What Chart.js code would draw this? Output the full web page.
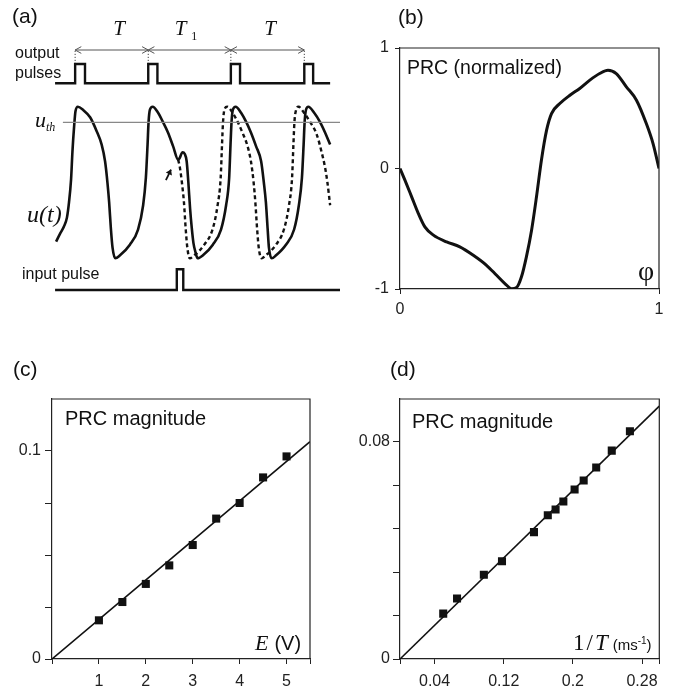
<!DOCTYPE html>
<html>
<head>
<meta charset="utf-8">
<script src="https://cdn.jsdelivr.net/npm/chart.js@4.4.0/dist/chart.umd.min.js"></script>
<style>
  body { margin: 0; background: #fff; }
  #wrap { position: relative; width: 674px; height: 691px; }
  canvas { position: absolute; }
</style>
</head>
<body>
<div id="wrap">
  <canvas id="chartA" width="340" height="330" style="left:0;top:0"></canvas>
  <canvas id="chartB" width="334" height="330" style="left:340px;top:0"></canvas>
  <canvas id="chartC" width="340" height="361" style="left:0;top:330px"></canvas>
  <canvas id="chartD" width="334" height="361" style="left:340px;top:330px"></canvas>
</div>
<script>
// (a) membrane potential u(t): t in ms, u in % of spike height
const solidT = [16.5, 17.6, 18.8, 19.7, 20.3, 20.9, 21.3, 21.8, 22.2, 22.9, 24.4, 26.5, 28.4, 29.9, 30.9, 31.6, 32.1, 32.6, 33.1, 33.9,
  35.3, 38.2, 40.6, 42.1, 42.9, 43.4, 43.7, 44.1, 44.9, 46.5, 47.9, 49.4, 50.9, 52.4, 52.8, 53.7, 54.3, 54.9, 55.4, 55.9,
  56.4, 56.9, 57.5, 58.1, 59.7, 62.6, 65.0, 66.5, 67.4, 67.8, 68.1, 68.5, 69.3, 70.9, 72.4, 73.8, 75.3, 76.8, 77.6, 78.2,
  78.7, 79.1, 79.9, 81.2, 84.1, 86.5, 87.9, 88.8, 89.3, 89.6, 90.0, 90.7, 92.4, 94.1, 95.6, 97.1];
const solidU = [11, 16, 21, 27, 37, 52, 70, 87, 97, 100, 98, 93, 84, 75, 64, 50, 37, 20, 7, 0,
  2, 9, 19, 35, 53, 75, 90, 98, 100, 96, 90, 83, 74, 65, 66, 70, 69, 64, 50, 33,
  20, 10, 4, 0, 2, 9, 19, 35, 53, 75, 90, 98, 100, 96, 90, 83, 74, 64, 50, 37,
  20, 7, 0, 2, 9, 19, 35, 53, 75, 90, 98, 100, 96, 90, 83, 75];
// unperturbed continuation (dashed)
const freeT = [52.4, 52.9, 53.5, 54.1, 54.6, 55.1, 55.8, 57.2, 60.1, 62.5, 64.0, 64.9, 65.3, 65.6, 66.0, 66.8, 68.4, 69.9, 71.3, 72.8,
  73.8, 74.6, 75.1, 75.6, 76.1, 76.9, 78.2, 81.2, 83.5, 85.0, 85.9, 86.3, 86.6, 87.1, 87.8, 89.4, 91.2, 93.1, 94.6, 95.6,
  96.3, 97.1];
const freeU = [65, 60, 50, 37, 20, 7, 0, 2, 9, 19, 35, 53, 75, 90, 98, 100, 96, 90, 83, 74,
  64, 50, 37, 20, 7, 0, 2, 9, 19, 35, 53, 75, 90, 98, 100, 96, 90, 82, 70, 60,
  50, 35];
const outPulseT = [16.2, 22.1, 25.0, 43.6, 46.3, 67.9, 70.6, 89.5, 92.1, 97.1];
const outPulseV = [0, 1, 0, 1, 0, 1, 0, 1, 0, 0];
const inPulseT = [16.2, 52.0, 53.9, 100];
const inPulseV = [0, 1, 0, 0];
const thresholdT = [18.5, 100];
const uThreshold = 89.7;
const spikeMarkT = [22.1, 43.6, 67.9, 89.5];
const periodRow = 1.725;
const kickT = [48.8, 50.3];
const kickU = [51.5, 58.5];

// (b) phase response curve
const phase = [0, 0.019, 0.045, 0.071, 0.096, 0.129, 0.180, 0.231, 0.283, 0.334, 0.373, 0.405, 0.431, 0.450, 0.469, 0.488, 0.508,
  0.527, 0.546, 0.566, 0.585, 0.617, 0.656, 0.694, 0.733, 0.771, 0.803, 0.835, 0.874, 0.913, 0.951, 0.977, 1.0];
const prc = [0, -0.097, -0.235, -0.374, -0.484, -0.553, -0.609, -0.650, -0.720, -0.803, -0.886, -0.955, -0.997, -0.988, -0.899, -0.733, -0.512,
  -0.235, 0.069, 0.318, 0.456, 0.539, 0.608, 0.664, 0.733, 0.788, 0.816, 0.788, 0.678, 0.567, 0.373, 0.207, 0];
const bTicks = [-1, 0, 1];
const bLabels = ['-1', '0', '1'];

// (c) PRC magnitude vs E
const voltE = [1, 1.5, 2, 2.5, 3, 3.5, 4, 4.5, 5];
const magE = [0.0186, 0.0274, 0.0361, 0.0450, 0.0548, 0.0675, 0.0750, 0.0873, 0.0974];
const fitE = [0, 5.5];
const fitMagE = [0, 0.1045];
const cTicksX = [0, 1, 2, 3, 4, 5, 5.5];
const cLabelsX = ['', '1', '2', '3', '4', '5', ''];
const cTicksY = [0, 0.025, 0.05, 0.075, 0.1];
const cLabelsY = ['0', '', '', '', '0.1'];

// (d) PRC magnitude vs 1/T
const invT = [0.050, 0.066, 0.097, 0.118, 0.155, 0.171, 0.180, 0.189, 0.202, 0.2125, 0.227, 0.245, 0.266];
const magT = [0.0167, 0.0223, 0.0310, 0.0360, 0.0467, 0.0529, 0.0550, 0.0580, 0.0624, 0.0657, 0.0705, 0.0767, 0.0838];
const fitT = [0, 0.3];
const fitMagT = [0, 0.0931];
const dTicksX = [0, 0.04, 0.12, 0.2, 0.28, 0.3];
const dLabelsX = ['', '0.04', '0.12', '0.2', '0.28', ''];
const dTicksY = [0, 0.016, 0.032, 0.048, 0.064, 0.08];
const dLabelsY = ['0', '', '', '', '', '0.08'];

Chart.defaults.font.family = "'Liberation Sans', Arial, sans-serif";
Chart.defaults.font.size = 16;
Chart.defaults.color = '#222';
Chart.defaults.animation = false;
Chart.defaults.responsive = false;
Chart.defaults.plugins.legend.display = false;
Chart.defaults.plugins.tooltip.enabled = false;

const ink = '#111';
const pts = (xs, ys) => xs.map((x, i) => ({ x: x, y: ys[i] }));

function axis(min, max, ticks, labels, size, tickLen, pad) {
  return {
    type: 'linear', min: min, max: max,
    afterBuildTicks: s => { s.ticks = ticks.map(v => ({ value: v })); },
    afterFit: s => { if (s.isHorizontal()) s.height = size; else s.width = size; },
    grid: { drawOnChartArea: false, drawTicks: true, tickLength: tickLen, color: '#222', lineWidth: 1 },
    border: { color: '#222', width: 1.2 },
    ticks: { padding: pad, color: '#222', autoSkip: false, maxRotation: 0, font: { size: 16 },
      callback: (v, i) => labels[i] }
  };
}

function hidden(min, max, ax) {
  return { type: 'linear', axis: ax, min: min, max: max, display: false };
}

// box around the plot area
const frame = {
  id: 'frame',
  afterDatasetsDraw(chart) {
    const a = chart.chartArea, ctx = chart.ctx;
    ctx.save();
    ctx.strokeStyle = '#222';
    ctx.lineWidth = 1.2;
    ctx.beginPath();
    ctx.moveTo(a.left, a.top);
    ctx.lineTo(a.right, a.top);
    ctx.lineTo(a.right, a.bottom);
    ctx.stroke();
    ctx.restore();
  }
};

// text labels made of runs (for subscripts, italics)
function notes(items) {
  return {
    id: 'notes',
    afterDraw(chart) {
      const ctx = chart.ctx;
      items.forEach(it => {
        ctx.save();
        ctx.fillStyle = ink;
        ctx.textBaseline = it.base || 'alphabetic';
        let x = it.x;
        if (it.align === 'center') {
          let w = 0;
          it.runs.forEach(r => { ctx.font = r[1]; w += ctx.measureText(r[0]).width + (r[3] || 0); });
          x -= w / 2;
        }
        it.runs.forEach(r => {
          ctx.font = r[1];
          ctx.fillText(r[0], x, it.y + (r[2] || 0));
          x += ctx.measureText(r[0]).width + (r[3] || 0);
        });
        ctx.restore();
      });
    }
  };
}

// arrow heads on datasets flagged with arrowHeads
const arrowHeads = {
  id: 'arrowHeads',
  afterDatasetsDraw(chart) {
    const ctx = chart.ctx;
    chart.data.datasets.forEach((ds, i) => {
      if (!ds.arrowHeads) return;
      const d = chart.getDatasetMeta(i).data;
      const p0 = d[0], p1 = d[d.length - 1];
      const ends = ds.arrowHeads === 'both' ? [[p0, p1], [p1, p0]] : [[p1, p0]];
      ctx.save();
      ctx.strokeStyle = ds.borderColor;
      ctx.fillStyle = ds.borderColor;
      ctx.lineWidth = ds.borderWidth;
      ends.forEach(([tip, from]) => {
        const ang = Math.atan2(tip.y - from.y, tip.x - from.x);
        const len = ds.headLen || 8, spread = ds.headSpread || 0.45;
        ctx.beginPath();
        ctx.moveTo(tip.x - len * Math.cos(ang - spread), tip.y - len * Math.sin(ang - spread));
        ctx.lineTo(tip.x, tip.y);
        ctx.lineTo(tip.x - len * Math.cos(ang + spread), tip.y - len * Math.sin(ang + spread));
        if (ds.headFill) { ctx.closePath(); ctx.fill(); } else ctx.stroke();
      });
      ctx.restore();
    });
  }
};

const serif = "'Liberation Serif', 'Times New Roman', serif";
const sans = "'Liberation Sans', Arial, sans-serif";

// ---- (a) ----
const periodSets = [0, 1, 2].map(k => ({
  data: pts([spikeMarkT[k], spikeMarkT[k + 1]], [periodRow, periodRow]), yAxisID: 'out',
  showLine: true, pointRadius: 0, borderColor: '#555', borderWidth: 1, arrowHeads: 'both', headLen: 7, headSpread: 0.5
}));
const markData = [];
spikeMarkT.forEach(t => { markData.push({ x: t, y: 1 }, { x: t, y: periodRow }, { x: t, y: null }); });

new Chart(document.getElementById('chartA'), {
  type: 'scatter',
  data: {
    datasets: [
      { data: pts(thresholdT, [uThreshold, uThreshold]), yAxisID: 'u', showLine: true, pointRadius: 0, borderColor: '#888', borderWidth: 1.3 },
      { data: pts(solidT, solidU), yAxisID: 'u', showLine: true, pointRadius: 0, borderColor: ink, borderWidth: 2.6, cubicInterpolationMode: 'monotone' },
      { data: pts(freeT, freeU), yAxisID: 'u', showLine: true, pointRadius: 0, borderColor: ink, borderWidth: 2.4, borderDash: [4, 3], cubicInterpolationMode: 'monotone' },
      { data: pts(outPulseT, outPulseV), yAxisID: 'out', showLine: true, stepped: true, pointRadius: 0, borderColor: ink, borderWidth: 2.4 },
      { data: pts(inPulseT, inPulseV), yAxisID: 'in', showLine: true, stepped: true, pointRadius: 0, borderColor: ink, borderWidth: 2.4 },
      { data: markData, yAxisID: 'out', showLine: true, spanGaps: false, pointRadius: 0, borderColor: '#444', borderWidth: 1, borderDash: [1.2, 1.8] },
      ...periodSets,
      { data: pts(kickT, kickU), yAxisID: 'u', showLine: true, pointRadius: 0, borderColor: ink, borderWidth: 1.8, arrowHeads: 'end', headLen: 6, headSpread: 0.6, headFill: true }
    ]
  },
  options: {
    layout: { padding: { left: 0, right: 0, top: 40, bottom: 30 } },
    scales: {
      x: { type: 'linear', min: 0, max: 100, display: false },
      u: hidden(-27.5, 144, 'y'),
      out: hidden(-11.23, 2.244, 'y'),
      in: hidden(-0.483, 12.077, 'y')
    }
  },
  plugins: [arrowHeads, notes([
    { x: 12, y: 17, base: 'middle', runs: [['(a)', '21px ' + sans]] },
    { x: 15, y: 54, base: 'middle', runs: [['output', '16px ' + sans]] },
    { x: 15, y: 74, base: 'middle', runs: [['pulses', '16px ' + sans]] },
    { x: 35, y: 127, runs: [['u', 'italic 22px ' + serif, 0, 0], ['th', 'italic 12px ' + serif, 4]] },
    { x: 27, y: 222, runs: [['u(t)', 'italic 24px ' + serif]] },
    { x: 22, y: 275, base: 'middle', runs: [['input pulse', '16px ' + sans]] },
    { x: 119, y: 35, align: 'center', runs: [['T', 'italic 21px ' + serif]] },
    { x: 186, y: 35, align: 'center', runs: [['T', 'italic 21px ' + serif, 0, 5], ['1', '12px ' + serif, 5]] },
    { x: 270, y: 35, align: 'center', runs: [['T', 'italic 21px ' + serif]] }
  ])]
});

// ---- (b) ----
new Chart(document.getElementById('chartB'), {
  type: 'scatter',
  data: {
    datasets: [
      { data: pts(phase, prc), showLine: true, pointRadius: 0, borderColor: ink, borderWidth: 3, cubicInterpolationMode: 'monotone' }
    ]
  },
  options: {
    layout: { padding: { left: 0, right: 15, top: 48, bottom: 0 } },
    scales: {
      x: axis(0, 1, [0, 1], ['0', '1'], 41, 5, 6),
      y: axis(-1, 1, bTicks, bLabels, 60, 5, 6)
    }
  },
  plugins: [frame, notes([
    { x: 58, y: 18, base: 'middle', runs: [['(b)', '21px ' + sans]] },
    { x: 67, y: 69, base: 'middle', runs: [['PRC (normalized)', '19.5px ' + sans]] },
    { x: 306, y: 273, base: 'middle', align: 'center', runs: [['\u03c6', '28px ' + serif]] }
  ])]
});

// ---- (c) ----
new Chart(document.getElementById('chartC'), {
  type: 'scatter',
  data: {
    datasets: [
      { data: pts(voltE, magE), pointStyle: 'rect', pointRadius: 5.7, backgroundColor: ink, borderWidth: 0 },
      { data: pts(fitE, fitMagE), showLine: true, pointRadius: 0, borderColor: ink, borderWidth: 1.6 }
    ]
  },
  options: {
    layout: { padding: { left: 0, right: 30, top: 69, bottom: 0 } },
    scales: {
      x: axis(0, 5.5, cTicksX, cLabelsX, 32, 5, 8),
      y: axis(0, 0.125, cTicksY, cLabelsY, 52, 7, 4)
    }
  },
  plugins: [frame, notes([
    { x: 13, y: 40, base: 'middle', runs: [['(c)', '21px ' + sans]] },
    { x: 65, y: 89, base: 'middle', runs: [['PRC magnitude', '20px ' + sans]] },
    { x: 255, y: 320, runs: [['E', 'italic 22px ' + serif, 0, 6], ['(V)', '20px ' + sans]] }
  ])]
});

// ---- (d) ----
new Chart(document.getElementById('chartD'), {
  type: 'scatter',
  data: {
    datasets: [
      { data: pts(invT, magT), pointStyle: 'rect', pointRadius: 5.7, backgroundColor: ink, borderWidth: 0 },
      { data: pts(fitT, fitMagT), showLine: true, pointRadius: 0, borderColor: ink, borderWidth: 1.6 }
    ]
  },
  options: {
    layout: { padding: { left: 0, right: 14.7, top: 69, bottom: 0 } },
    scales: {
      x: axis(0, 0.3, dTicksX, dLabelsX, 32, 5, 8),
      y: axis(0, 0.0957, dTicksY, dLabelsY, 60, 7, 3)
    }
  },
  plugins: [frame, notes([
    { x: 50, y: 40, base: 'middle', runs: [['(d)', '21px ' + sans]] },
    { x: 72, y: 92, base: 'middle', runs: [['PRC magnitude', '20px ' + sans]] },
    { x: 233, y: 320, runs: [['1', '23px ' + serif, 0, 2], ['/', '23px ' + serif, 0, 2], ['T', 'italic 23px ' + serif, 0, 5],
      ['(ms', '15px ' + sans], ['-1', '10px ' + sans, -6], [')', '15px ' + sans]] }
  ])]
});
</script>
</body>
</html>
